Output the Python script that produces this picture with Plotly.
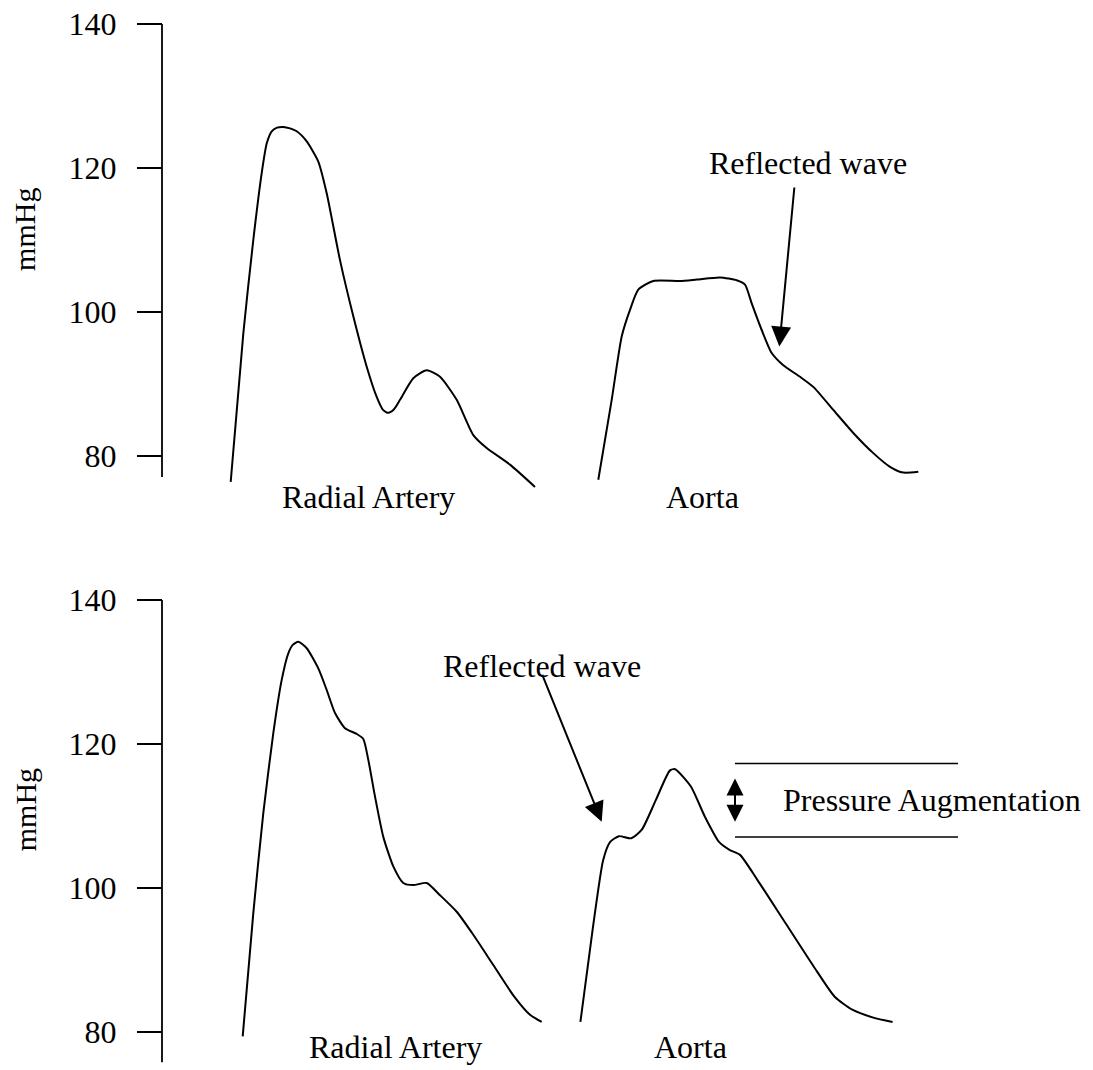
import plotly.graph_objects as go

# pressure waves (time in arbitrary units, pressure in mmHg)
top_radial_t = [230.7, 243.3, 253.3, 261.7, 266.7, 271.7, 277, 283.3, 290, 296.7, 306.7, 318.3, 326.7, 340,
                353.3, 366.7, 376.7, 383, 388.3, 394, 400, 413.3, 426.7, 440, 456.7, 473.3, 486.7, 510, 535]
top_radial_p = [76.4, 97.0, 110.0, 119.3, 123.4, 125.1, 125.6, 125.7, 125.5, 125.1, 123.7, 120.9, 116.5, 107.2,
                99.4, 92.4, 88.2, 86.4, 86.0, 86.5, 87.8, 90.8, 91.9, 91.0, 87.8, 82.9, 81.1, 78.8, 75.7]

top_aorta_t = [598.3, 611.7, 621.7, 630, 638.3, 653.3, 680, 696.7, 720, 736.7, 745, 751.7, 761.7, 771.7,
               783.3, 800, 813.3, 833.3, 853.3, 873.3, 890, 903.3, 918.3]
top_aorta_p = [76.7, 87.8, 96.6, 100.3, 103.1, 104.3, 104.3, 104.5, 104.8, 104.4, 103.8, 101.2, 97.5, 94.3,
               92.6, 91.0, 89.6, 86.4, 83.2, 80.4, 78.5, 77.7, 77.8]

bot_radial_t = [242.7, 253.3, 263.3, 273.3, 281.7, 288.3, 293, 298.3, 306.7, 318.3, 326.7, 335, 345, 356.7, 363.3,
                368.3, 375, 383.3, 393.3, 403.3, 413.3, 426.7, 440, 456.7, 473.3, 493.3, 513.3, 530, 541.7]
bot_radial_p = [79.4, 96.5, 110.4, 121.5, 128.9, 132.6, 133.8, 134.2, 133.3, 130.5, 127.5, 124.3, 122.2, 121.4,
                120.7, 117.8, 112.7, 107.1, 103.0, 100.7, 100.4, 100.7, 99.0, 96.7, 93.5, 89.3, 85.1, 82.4, 81.4]

bot_aorta_t = [580.4, 592.6, 603.2, 610.2, 619, 631.2, 641.8, 655.8, 669.8, 675.1, 690.9, 704.9, 719, 729.5,
               740, 757.5, 785.6, 813.7, 834.7, 852.3, 873.3, 892.6]
bot_aorta_p = [81.4, 94.2, 103.9, 106.4, 107.2, 106.9, 108.1, 112.2, 116.3, 116.5, 114.1, 109.9, 106.4, 105.3,
               104.6, 101.1, 95.1, 89.1, 84.9, 83.1, 82.0, 81.4]

tick_vals = [80, 100, 120, 140]
augment_levels = [117.3, 107.1]
augment_t = [735, 958]
augment_arrow = [109.2, 112.2, 115.2]   # bottom tip, middle, top tip of the double arrow

W, H = 1093, 1070
axis_x = 162
FONT = "Times New Roman, Liberation Serif, serif"
black = "black"

fig = go.Figure()
for t, p, xa, ya in [(top_radial_t, top_radial_p, "x", "y"), (top_aorta_t, top_aorta_p, "x", "y"),
                     (bot_radial_t, bot_radial_p, "x2", "y2"), (bot_aorta_t, bot_aorta_p, "x2", "y2")]:
    fig.add_trace(go.Scatter(x=t, y=p, mode="lines", xaxis=xa, yaxis=ya,
                             line=dict(color=black, width=2, shape="spline", smoothing=0.6),
                             hoverinfo="skip"))


def ydom(top_px, lo, hi):
    bottom_px = top_px + (hi - lo) * 7.2
    return [1 - bottom_px / H, 1 - top_px / H]


yax = dict(anchor="free", position=axis_x / W, showline=False, showgrid=False, zeroline=False,
           automargin=False, ticks="outside", ticklen=25, tickwidth=1.8, tickcolor=black,
           tickvals=tick_vals, tickfont=dict(family=FONT, size=32, color=black), ticklabelstandoff=14)
xax = dict(domain=[0, 1], range=[0, W], visible=False, automargin=False)

fig.update_layout(
    width=W, height=H, margin=dict(l=0, r=0, t=0, b=0, pad=0), autosize=False,
    paper_bgcolor="white", plot_bgcolor="white", showlegend=False,
    xaxis=dict(xax, anchor="y"), xaxis2=dict(xax, anchor="y2"),
    yaxis=dict(yax, domain=ydom(24, 74, 140), range=[74, 140]),
    yaxis2=dict(yax, domain=ydom(600, 75, 140), range=[75, 140]),
)

# axis lines
fig.add_shape(type="line", xref="x", yref="y", x0=axis_x, x1=axis_x, y0=77.1, y1=140,
              line=dict(color=black, width=1.8))
fig.add_shape(type="line", xref="x2", yref="y2", x0=axis_x, x1=axis_x, y0=75.8, y1=140,
              line=dict(color=black, width=1.8))
for lvl in augment_levels:
    fig.add_shape(type="line", xref="x2", yref="y2", x0=augment_t[0], x1=augment_t[1], y0=lvl, y1=lvl,
                  line=dict(color=black, width=1.5))
# shaft of the double arrow
fig.add_shape(type="line", xref="x2", yref="y2", x0=augment_t[0], x1=augment_t[0],
              y0=augment_arrow[0] + 1, y1=augment_arrow[2] - 1, line=dict(color=black, width=2))

txt = dict(family=FONT, size=32, color=black)
notes = [
    ("x", "y", 25, 111.4, "mmHg", -90),
    ("x2", "y2", 25, 110.8, "mmHg", -90),
    ("x", "y", 368, 74.3, "Radial Artery", 0),
    ("x", "y", 702, 74.3, "Aorta", 0),
    ("x2", "y2", 395, 77.9, "Radial Artery", 0),
    ("x2", "y2", 690, 77.9, "Aorta", 0),
    ("x", "y", 808, 120.7, "Reflected wave", 0),
    ("x2", "y2", 542, 130.8, "Reflected wave", 0),
    ("x2", "y2", 932, 112.2, "Pressure Augmentation", 0),
]
for xr, yr, x, y, s, ang in notes:
    fig.add_annotation(xref=xr, yref=yr, x=x, y=y, text=s, textangle=ang, showarrow=False,
                       font=dict(txt, size=30) if s == "mmHg" else txt)

# arrows: (tip x, tip y, tail x, tail y, head size)
arrows = [("x", "y", 779.3, 95.2, 794.5, 117.5, 2.0),
          ("x2", "y2", 601.7, 109.2, 541.7, 129.8, 2.0),
          ("x2", "y2", augment_t[0], augment_arrow[2], augment_t[0], augment_arrow[1], 1.7),
          ("x2", "y2", augment_t[0], augment_arrow[0], augment_t[0], augment_arrow[1], 1.7)]
for xr, yr, x, y, ax, ay, size in arrows:
    fig.add_annotation(xref=xr, yref=yr, axref=xr, ayref=yr, x=x, y=y, ax=ax, ay=ay, text="",
                       showarrow=True, arrowhead=2, arrowsize=size, arrowwidth=2, arrowcolor=black,
                       standoff=0, startstandoff=0)

fig.write_html("out.html", config={"displayModeBar": False},
               post_script="document.body.style.margin='0';document.body.style.overflow='hidden';")
